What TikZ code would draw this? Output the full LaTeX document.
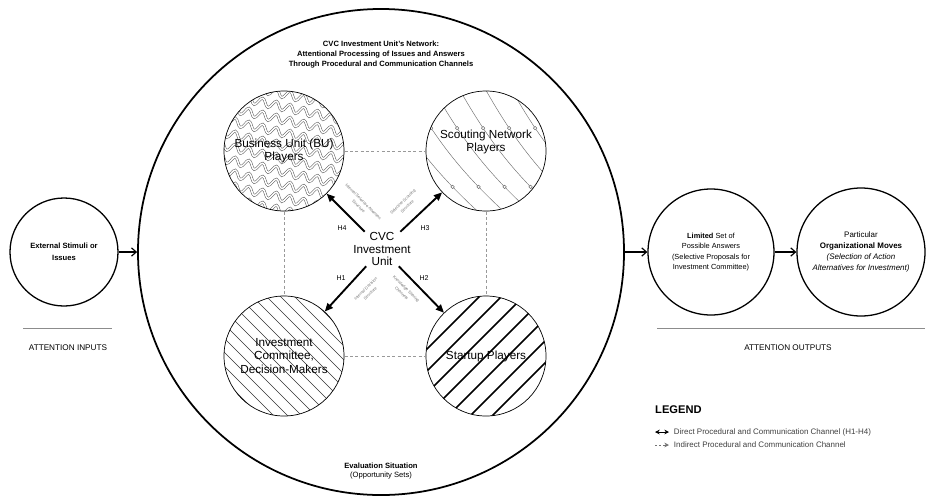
\documentclass[tikz,border=0pt]{standalone}
\usepackage{fontspec}
\setmainfont{Liberation Sans}
\usetikzlibrary{positioning,arrows.meta,backgrounds,decorations.pathmorphing}

\begin{document}
\begin{tikzpicture}[x=0.03cm,y=-0.03cm,
    stage/.style={circle,draw,line width=1.1pt,inner sep=0pt,align=center,font=\fontsize{6.3}{9}\selectfont},
    player/.style={circle,draw,line width=.6pt,minimum size=3.6cm,inner sep=0pt,align=center,font=\fontsize{10}{11.5}\selectfont},
    flow/.style={line width=1pt,-{Straight Barb[length=4pt,width=7pt]}},
    direct/.style={line width=1.6pt,-{Triangle[length=7pt,width=6pt]}},
    indirect/.style={draw=black!40,line width=.6pt,dash pattern=on 2.5pt off 2pt,{Bar[width=3pt]}-{Bar[width=3pt]}},
    hyp/.style={font=\fontsize{6}{7}\selectfont},
    chan/.style={font=\fontsize{3.5}{5.5}\selectfont,text=black!55,align=center,inner sep=0pt},
    caption/.style={font=\fontsize{6.5}{8.5}\selectfont,align=center},
    divider/.style={draw=black!45,line width=.8pt},
    legtext/.style={font=\fontsize{6.8}{8}\selectfont,text=black!75,inner sep=0pt},
    dot/.style={circle,draw=black!55,fill=white,line width=.4pt,inner sep=0pt,minimum size=3pt}]
  \useasboundingbox (0,0) rectangle (929,495);
  \node[circle,draw,line width=1.5pt,minimum size=14.58cm] (net) at (381,252) {};
  \node[caption,font=\bfseries\fontsize{6.5}{8.5}\selectfont] (title) at (381,55)
    {CVC Investment Unit's Network:\\Attentional Processing of Issues and Answers\\Through Procedural and Communication Channels};
  \node[caption] (eval) at (381,471) {\textbf{Evaluation Situation}\\(Opportunity Sets)};

  % attention inputs and outputs
  \node[stage,minimum size=3.24cm,font=\bfseries\fontsize{6.5}{10}\selectfont] (ext) at (64,252) {External Stimuli or\\Issues};
  \node[stage,minimum size=3.78cm] (limited) at (711,252)
    {\textbf{Limited} Set of\\Possible Answers\\(Selective Proposals for\\Investment Committee)};
  \node[stage,minimum size=3.84cm,font=\fontsize{6.8}{9.5}\selectfont] (moves) at (861,252)
    {Particular\\\textbf{Organizational Moves}\\\textit{(Selection of Action}\\\textit{Alternatives for Investment)}};
  \draw[flow] (ext) -- (net);
  \draw[flow] (net) -- (limited);
  \draw[flow] (limited) -- (moves);
  \draw[divider] (23,328) -- (112,328);
  \node[font=\fontsize{7}{8}\selectfont] (inputs) at (68,348) {ATTENTION INPUTS};
  \draw[divider] (657,328) -- (925,328);
  \node[font=\fontsize{7}{8}\selectfont] (outputs) at (788,348) {ATTENTION OUTPUTS};

  % players inside the network
  \node[player] (bu) at (284,151) {Business Unit (BU)\\Players};
  \node[player] (sc) at (486,151) {Scouting Network\\Players\\[6pt]};
  \node[player] (ic) at (284,356) {Investment\\Committee,\\Decision-Makers};
  \node[player] (sp) at (486,356) {Startup Players};
  \node[font=\fontsize{10}{11}\selectfont,align=center,inner sep=0pt] (cvc) at (382,249) {CVC\\Investment\\Unit};

  \draw[direct] (cvc) -- (bu);
  \draw[direct] (cvc) -- (sc);
  \draw[direct] (cvc) -- (ic);
  \draw[direct] (cvc) -- (sp);
  \node[hyp] (h4) at (342,228) {H4};
  \node[hyp] (h3) at (425,228) {H3};
  \node[hyp] (h1) at (341,278) {H1};
  \node[hyp] (h2) at (424,278) {H2};
  \node[chan,rotate=-45] (c4) at (361,204) {Internal Selective Attention\\Structure};
  \node[chan,rotate=45] (c3) at (405,204) {Selective Scouting\\Structure};
  \node[chan,rotate=45] (c1) at (368,291) {Internal Decision\\Structure};
  \node[chan,rotate=-45] (c2) at (404,291) {Knowledge Sharing\\Channels};

  \draw[indirect] (bu) -- (sc);
  \draw[indirect] (bu) -- (ic);
  \draw[indirect] (sc) -- (sp);
  \draw[indirect] (ic) -- (sp);

  % fills of the player circles
  \begin{scope}[on background layer]
    \begin{scope}
      \clip (bu.center) circle [radius=60];
      \foreach \k in {-7,...,6}
        \draw[black!65,line width=.45pt,double=white,double distance=1.3pt,
              decorate,decoration={snake,segment length=12pt,amplitude=3.4pt}]
          ([shift={(-95,\k*13)}]bu.center) -- ++(190,42);
    \end{scope}
    \begin{scope}
      \clip (sc.center) circle [radius=60];
      \foreach \k in {-4,...,4}
        \draw[black!55,line width=.4pt] ([shift={(\k*26-60,-75)}]sc.center)
          to[bend right=10] node[dot,pos=.3] {} node[dot,pos=.72] {} ++(120,150);
    \end{scope}
    \begin{scope}
      \clip (ic.center) circle [radius=60];
      \foreach \k in {-9,...,9}
        \draw[black!80,line width=.55pt] ([shift={(\k*14-70,-70)}]ic.center) -- ++(140,140);
    \end{scope}
    \begin{scope}
      \clip (sp.center) circle [radius=60];
      \foreach \k in {-6,...,6}
        \draw[line width=1.4pt] ([shift={(\k*22-70,70)}]sp.center) -- ++(140,-140);
    \end{scope}
  \end{scope}

  % legend
  \node[font=\bfseries\fontsize{9.5}{10}\selectfont,anchor=west,inner sep=0pt] (legend) at (655,410) {LEGEND};
  \coordinate (d1) at (655,432);
  \coordinate (d2) at (669,432);
  \draw[line width=.7pt,{Stealth[length=4pt,width=4pt]}-{Stealth[length=4pt,width=4pt]}] (d1) -- (d2);
  \node[legtext,right=4pt of d2] (ldirect) {Direct Procedural and Communication Channel (H1-H4)};
  \coordinate (i1) at (655,445);
  \coordinate (i2) at (669,445);
  \draw[black!55,line width=.7pt,dash pattern=on 2pt off 1.5pt,-{Stealth[length=4pt,width=4pt]}] (i1) -- (i2);
  \node[legtext,right=4pt of i2] (lindirect) {Indirect Procedural and Communication Channel};
\end{tikzpicture}
\end{document}
